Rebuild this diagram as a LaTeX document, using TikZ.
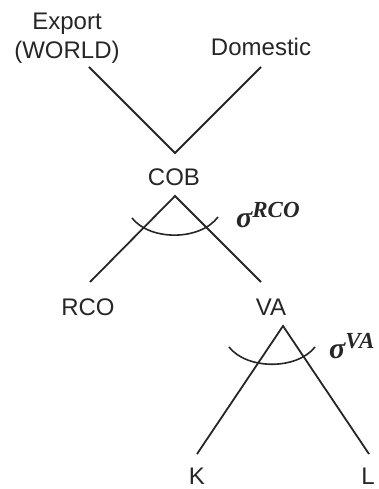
\documentclass[tikz,border=0pt]{standalone}
\usepackage{fontspec}
\setmainfont{Liberation Sans}
\newfontfamily\sigfont{Liberation Serif}
\newcommand{\supx}[1]{\raisebox{10pt}{\fontsize{23}{25}\selectfont #1}}
\begin{document}
\begin{tikzpicture}[x=1pt,y=-1pt,
  lbl/.style={font=\fontsize{24}{29}\selectfont, inner sep=0pt, text=black!85},
  sig/.style={font=\sigfont\bfseries\itshape\fontsize{30}{32}\selectfont, inner sep=0pt, text=black!85},
  edge/.style={line width=1.8pt, black!85},
  arcline/.style={line width=1.6pt, black!85}]
\useasboundingbox (0,0) rectangle (379,489);
% text nodes
\node[lbl, align=center, anchor=center] (exp) at (67,38) {Export\\(WORLD)};
\node[lbl, anchor=base] (dom) at (261,56) {Domestic};
\node[lbl, anchor=base] (cob) at (174,185) {COB};
\node[lbl, anchor=base] (rco) at (88,315) {RCO};
\node[lbl, anchor=base] (va) at (271,315) {VA};
\node[lbl, anchor=base] (k) at (197,484) {K};
\node[lbl, anchor=base] (l) at (368,484) {L};
\node[sig, anchor=base west] (s1) at (236,227) {σ\supx{RCO}};
\node[sig, anchor=base west] (s2) at (329,358) {σ\supx{VA}};
% line endpoints
\coordinate (e1) at (89,67);
\coordinate (d1) at (261,67);
\coordinate (c1) at (175,153);
\coordinate (c2) at (175,196);
\coordinate (r1) at (90,282);
\coordinate (v1) at (261,282);
\coordinate (v2) at (283,326);
\coordinate (k1) at (197,454);
\coordinate (l1) at (369,454);
\coordinate (a1) at (132,218);
\coordinate (a2) at (218,217);
\coordinate (b1) at (229,347);
\coordinate (b2) at (315,347);
% connectors
\draw[edge] (e1) -- (c1) -- (d1);
\draw[edge] (r1) -- (c2) -- (v1);
\draw[edge] (k1) -- (v2) -- (l1);
\draw[arcline] (a1) .. controls (150,241) and (200,241) .. (a2);
\draw[arcline] (b1) .. controls (247,370) and (297,370) .. (b2);
\end{tikzpicture}
\end{document}
